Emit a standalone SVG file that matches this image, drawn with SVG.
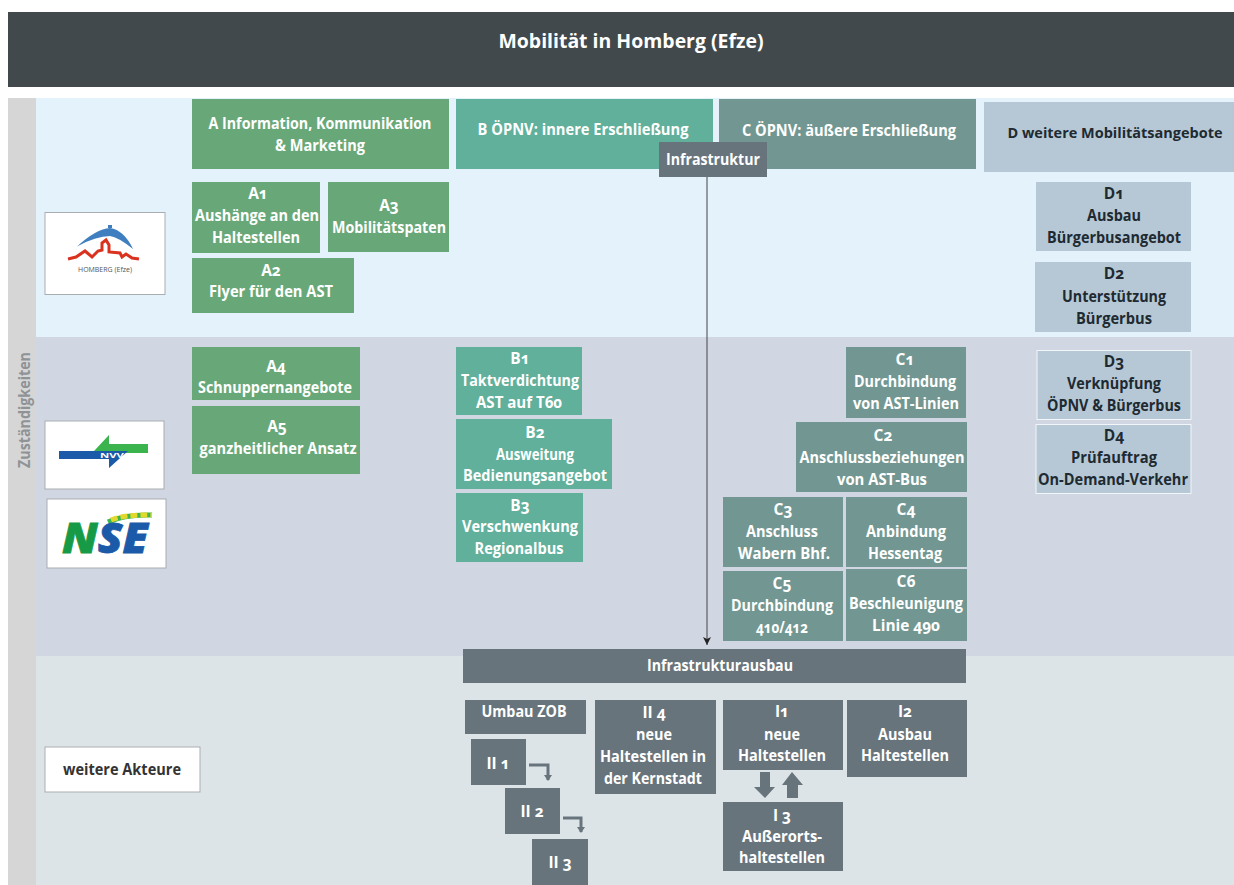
<svg xmlns="http://www.w3.org/2000/svg" width="1234" height="885" viewBox="0 0 1234 885">
<style>
text{font-family:"Open Sans","Noto Sans","Liberation Sans",sans-serif;font-weight:700;font-size:15.5px;fill:#fff;text-anchor:middle;font-feature-settings:"onum"}
.a{fill:#68a878}.b{fill:#60b09c}.c{fill:#729792}.d{fill:#b6c8d5}.g{fill:#68747c}
text.k{fill:#1e2a32}
.o{fill:#fff;stroke:#a9adb1;stroke-width:1}
.l{fill:none;stroke:#68747c;stroke-width:3}
</style>
<defs>
<marker id="ah" markerWidth="8" markerHeight="9" refX="4" refY="8" orient="0" markerUnits="userSpaceOnUse"><path d="M0 0L4 8L8 0L4 2Z" fill="#222"/></marker>
<marker id="sm" markerWidth="8" markerHeight="6" refX="4" refY="5" orient="0" markerUnits="userSpaceOnUse"><path d="M0 0H8L4 6Z" fill="#68747c"/></marker>
</defs>
<rect width="1234" height="885" fill="#fff"/>
<g id="bands">
<rect x="8" y="12" width="1226" height="75" fill="#41494c"/>
<rect x="8" y="98" width="28" height="787" fill="#d6d6d6"/>
<rect x="36" y="98" width="1198" height="239" fill="#e4f2fb"/>
<rect x="36" y="337" width="1198" height="319" fill="#d0d7e3"/>
<rect x="36" y="656" width="1198" height="229" fill="#dde4e8"/>
<text x="631" y="48" textLength="265" lengthAdjust="spacingAndGlyphs" style="font-size:20px">Mobilität in Homberg (Efze)</text>
<text transform="translate(30 410) rotate(-90)" textLength="116" lengthAdjust="spacingAndGlyphs" style="fill:#8f9396">Zuständigkeiten</text>
</g>
<g id="logo-homberg">
<rect class="o" x="45" y="212.500" width="120" height="82"/>
<path d="M77 246.500Q96 229 110 228Q124 230 133 249Q118 237 110 236Q96 236 77 246.500Z" fill="#3f7fc0"/>
<rect x="108" y="225" width="4" height="3" fill="#3f7fc0"/>
<path d="M68 259L76 257L85 251L92 257L98 251L102 250V243L106 240L109 245V252L120 253L122 257L126 254L132 258L139 259" fill="none" stroke="#d9321f" stroke-width="3"/>
<text x="105" y="272" textLength="54" lengthAdjust="spacingAndGlyphs" style="font-size:6.500px;font-weight:400;fill:#555">HOMBERG (Efze)</text>
</g>
<g id="logo-nvv">
<rect class="o" x="45" y="421" width="119" height="68"/>
<path d="M94 451L109 435V444H148V453H94Z" fill="#3cb44e"/>
<path d="M59 451H128L109 468V459H59Z" fill="#1a5aa8"/>
<text x="112" y="458" textLength="24" lengthAdjust="spacingAndGlyphs" style="font-size:7px">NVV</text>
</g>
<g id="logo-nse">
<rect class="o" x="47" y="499" width="119" height="69"/>
<path d="M108 522Q125 514 152 515" fill="none" stroke="#3cb44e" stroke-width="5"/>
<path d="M111 520Q125 514.500 152 515" fill="none" stroke="#e3d92c" stroke-width="5" stroke-dasharray="7 3"/>
<text x="105" y="553" textLength="86" lengthAdjust="spacingAndGlyphs" style="font-size:42px;font-style:italic;font-weight:800;fill:#179a46;stroke:#179a46;stroke-width:.8">N<tspan fill="#1a5aa8" stroke="#1a5aa8">SE</tspan></text>
</g>
<g id="node-acteure"><rect class="o" x="45" y="747" width="155" height="45"/><text x="122" y="775" textLength="118" lengthAdjust="spacingAndGlyphs" style="fill:#333">weitere Akteure</text></g>

<g id="node-A"><rect class="a" x="192" y="99" width="257" height="70"/><text x="320" y="129" textLength="223" lengthAdjust="spacingAndGlyphs">A Information, Kommunikation</text><text x="320" y="151" textLength="90" lengthAdjust="spacingAndGlyphs">&amp; Marketing</text></g>
<g id="node-B"><rect class="b" x="456" y="99" width="257" height="70"/><text x="583" y="135" textLength="211" lengthAdjust="spacingAndGlyphs">B ÖPNV: innere Erschließung</text></g>
<g id="node-C"><rect class="c" x="719" y="99" width="257" height="70"/><text x="849" y="136" textLength="214" lengthAdjust="spacingAndGlyphs">C ÖPNV: äußere Erschließung</text></g>
<g id="node-D"><rect class="d" x="984" y="102" width="250" height="70"/><text class="k" x="1115" y="138" textLength="215" lengthAdjust="spacingAndGlyphs" style="font-size:14.500px">D weitere Mobilitätsangebote</text></g>

<g id="node-A1"><rect class="a" x="192" y="182" width="128" height="71"/><text x="258" y="199">A1</text><text x="257" y="221" textLength="124" lengthAdjust="spacingAndGlyphs">Aushänge an den</text><text x="256" y="243" textLength="88" lengthAdjust="spacingAndGlyphs">Haltestellen</text></g>
<g id="node-A3"><rect class="a" x="328" y="182" width="121" height="70"/><text x="389" y="211">A3</text><text x="389" y="233" textLength="114" lengthAdjust="spacingAndGlyphs">Mobilitätspaten</text></g>
<g id="node-A2"><rect class="a" x="192" y="258" width="162" height="55"/><text x="271" y="276">A2</text><text x="271" y="297" textLength="124" lengthAdjust="spacingAndGlyphs">Flyer für den AST</text></g>
<g id="node-A4"><rect class="a" x="192" y="347" width="168" height="53"/><text x="276" y="372">A4</text><text x="275" y="393" textLength="154" lengthAdjust="spacingAndGlyphs">Schnuppernangebote</text></g>
<g id="node-A5"><rect class="a" x="192" y="406" width="168" height="68"/><text x="277" y="432">A5</text><text x="278" y="454" textLength="157" lengthAdjust="spacingAndGlyphs">ganzheitlicher Ansatz</text></g>

<g id="node-B1"><rect class="b" x="456" y="347" width="126" height="68"/><text x="520" y="364">B1</text><text x="520" y="386" textLength="118" lengthAdjust="spacingAndGlyphs">Taktverdichtung</text><text x="519" y="408" textLength="86" lengthAdjust="spacingAndGlyphs">AST auf T60</text></g>
<g id="node-B2"><rect class="b" x="456" y="419" width="156" height="70"/><text x="535" y="438">B2</text><text x="535" y="460" textLength="78" lengthAdjust="spacingAndGlyphs">Ausweitung</text><text x="535" y="481" textLength="144" lengthAdjust="spacingAndGlyphs">Bedienungsangebot</text></g>
<g id="node-B3"><rect class="b" x="456" y="493" width="127" height="69"/><text x="520" y="511">B3</text><text x="520" y="532" textLength="116" lengthAdjust="spacingAndGlyphs">Verschwenkung</text><text x="519" y="554" textLength="89" lengthAdjust="spacingAndGlyphs">Regionalbus</text></g>

<g id="node-C1"><rect class="c" x="846" y="347" width="120" height="71"/><text x="905" y="365">C1</text><text x="905" y="387" textLength="102" lengthAdjust="spacingAndGlyphs">Durchbindung</text><text x="906" y="409" textLength="106" lengthAdjust="spacingAndGlyphs">von AST-Linien</text></g>
<g id="node-C2"><rect class="c" x="796" y="422" width="171" height="70"/><text x="883" y="441">C2</text><text x="882" y="463" textLength="165" lengthAdjust="spacingAndGlyphs">Anschlussbeziehungen</text><text x="882" y="485" textLength="90" lengthAdjust="spacingAndGlyphs">von AST-Bus</text></g>
<g id="node-C3"><rect class="c" x="723" y="497" width="120" height="70"/><text x="783" y="515">C3</text><text x="782" y="537" textLength="72" lengthAdjust="spacingAndGlyphs">Anschluss</text><text x="784" y="559" textLength="92" lengthAdjust="spacingAndGlyphs">Wabern Bhf.</text></g>
<g id="node-C4"><rect class="c" x="846" y="497" width="121" height="70"/><text x="906" y="515">C4</text><text x="906" y="537" textLength="80" lengthAdjust="spacingAndGlyphs">Anbindung</text><text x="905" y="559" textLength="74" lengthAdjust="spacingAndGlyphs">Hessentag</text></g>
<g id="node-C5"><rect class="c" x="723" y="571" width="120" height="70"/><text x="782" y="589">C5</text><text x="782" y="611" textLength="102" lengthAdjust="spacingAndGlyphs">Durchbindung</text><text x="782" y="633" textLength="52" lengthAdjust="spacingAndGlyphs">410/412</text></g>
<g id="node-C6"><rect class="c" x="846" y="569" width="121" height="72"/><text x="906" y="587">C6</text><text x="906" y="609" textLength="114" lengthAdjust="spacingAndGlyphs">Beschleunigung</text><text x="906" y="631" textLength="68" lengthAdjust="spacingAndGlyphs">Linie 490</text></g>

<g id="node-D1"><rect class="d" x="1036" y="182" width="155" height="69"/><text class="k" x="1114" y="199">D1</text><text class="k" x="1114" y="221" textLength="54" lengthAdjust="spacingAndGlyphs">Ausbau</text><text class="k" x="1114" y="243" textLength="134" lengthAdjust="spacingAndGlyphs">Bürgerbusangebot</text></g>
<g id="node-D2"><rect class="d" x="1035" y="262" width="156" height="70"/><text class="k" x="1114" y="279">D2</text><text class="k" x="1114" y="302" textLength="104" lengthAdjust="spacingAndGlyphs">Unterstützung</text><text class="k" x="1114" y="324" textLength="76" lengthAdjust="spacingAndGlyphs">Bürgerbus</text></g>
<g id="node-D3"><rect class="d" x="1037" y="350.500" width="154" height="69" stroke="#f2f6f8"/><text class="k" x="1114" y="367">D3</text><text class="k" x="1114" y="389" textLength="94" lengthAdjust="spacingAndGlyphs">Verknüpfung</text><text class="k" x="1114" y="411" textLength="134" lengthAdjust="spacingAndGlyphs">ÖPNV &amp; Bürgerbus</text></g>
<g id="node-D4"><rect class="d" x="1036" y="424.500" width="155" height="69" stroke="#f2f6f8"/><text class="k" x="1114" y="441">D4</text><text class="k" x="1114" y="463" textLength="86" lengthAdjust="spacingAndGlyphs">Prüfauftrag</text><text class="k" x="1113" y="485" textLength="150" lengthAdjust="spacingAndGlyphs">On-Demand-Verkehr</text></g>

<g id="connectors">
<line x1="707" y1="176" x2="707" y2="645" stroke="#444" stroke-width="1" marker-end="url(#ah)"/>
<path class="l" d="M529 765H548V780" marker-end="url(#sm)"/>
<path class="l" d="M563 818H581V832" marker-end="url(#sm)"/>
<path class="g" d="M760 772H770V787H775L765 798L754 787H760Z"/>
<path class="g" d="M787 798H798V785H803L792 772L782 785H787Z"/>
</g>

<g id="node-infra"><rect class="g" x="659" y="142" width="108" height="35"/><text x="713" y="165" textLength="94" lengthAdjust="spacingAndGlyphs">Infrastruktur</text></g>
<g id="node-ausbau"><rect class="g" x="463" y="649" width="503" height="34"/><text x="720" y="671" textLength="146" lengthAdjust="spacingAndGlyphs">Infrastrukturausbau</text></g>
<g id="node-zob"><rect class="g" x="465" y="700" width="121" height="34"/><text x="524" y="717" textLength="85" lengthAdjust="spacingAndGlyphs">Umbau ZOB</text></g>
<g id="node-II1"><rect class="g" x="471" y="739" width="55" height="46"/><text x="498" y="769">II 1</text></g>
<g id="node-II2"><rect class="g" x="505" y="788" width="55" height="46"/><text x="532" y="817">II 2</text></g>
<g id="node-II3"><rect class="g" x="532" y="839" width="56" height="46"/><text x="560" y="868">II 3</text></g>
<g id="node-II4"><rect class="g" x="595" y="700" width="121" height="94"/><text x="654" y="718">II 4</text><text x="654" y="740" textLength="36" lengthAdjust="spacingAndGlyphs">neue</text><text x="653" y="762" textLength="106" lengthAdjust="spacingAndGlyphs">Haltestellen in</text><text x="653" y="784" textLength="98" lengthAdjust="spacingAndGlyphs">der Kernstadt</text></g>
<g id="node-I1"><rect class="g" x="723" y="700" width="120" height="70"/><text x="782" y="717">I1</text><text x="782" y="740" textLength="36" lengthAdjust="spacingAndGlyphs">neue</text><text x="782" y="761" textLength="88" lengthAdjust="spacingAndGlyphs">Haltestellen</text></g>
<g id="node-I2"><rect class="g" x="847" y="700" width="120" height="77"/><text x="905" y="717">I2</text><text x="905" y="740" textLength="54" lengthAdjust="spacingAndGlyphs">Ausbau</text><text x="905" y="761" textLength="88" lengthAdjust="spacingAndGlyphs">Haltestellen</text></g>
<g id="node-I3"><rect class="g" x="723" y="802" width="120" height="69"/><text x="782" y="821">I 3</text><text x="782" y="842" textLength="80" lengthAdjust="spacingAndGlyphs">Außerorts-</text><text x="782" y="863" textLength="86" lengthAdjust="spacingAndGlyphs">haltestellen</text></g>
</svg>
